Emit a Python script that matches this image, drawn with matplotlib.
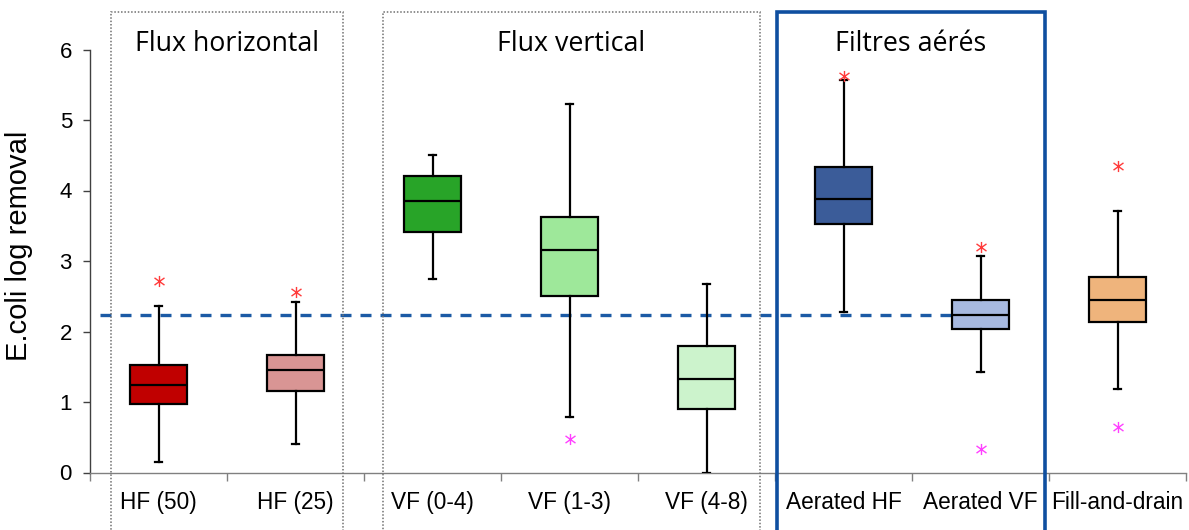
import matplotlib
matplotlib.use("Agg")
import matplotlib.pyplot as plt
import matplotlib.transforms as mtransforms
from matplotlib.patches import Rectangle
from matplotlib.path import Path

categories = ["HF (50)", "HF (25)", "VF (0-4)", "VF (1-3)", "VF (4-8)",
              "Aerated HF", "Aerated VF", "Fill-and-drain"]
whisker_low = [0.15, 0.40, 2.75, 0.79, 0.00, 2.28, 1.43, 1.18]
q1 = [0.97, 1.16, 3.41, 2.50, 0.90, 3.52, 2.03, 2.13]
median = [1.24, 1.45, 3.85, 3.15, 1.32, 3.88, 2.23, 2.45]
q3 = [1.53, 1.67, 4.21, 3.63, 1.79, 4.34, 2.45, 2.77]
whisker_high = [2.36, 2.42, 4.50, 5.23, 2.67, 5.57, 3.07, 3.71]
outliers_high = [[2.71], [2.56], [], [], [], [5.63], [3.20], [4.35]]
outliers_low = [[], [], [], [0.47], [], [], [0.33], [0.64]]
box_colors = ["#C00000", "#D99594", "#28A428", "#9EE89A", "#CCF3CC",
              "#3B5C99", "#A7B9E0", "#EFB47C"]
reference_level = 2.23
group_titles = ["Flux horizontal", "Flux vertical", "Filtres aérés"]

star = Path([(0, -1), (0, 1), (-0.9, -0.65), (0.9, 0.65), (-0.9, 0.65), (0.9, -0.65)],
            [Path.MOVETO, Path.LINETO, Path.MOVETO, Path.LINETO, Path.MOVETO, Path.LINETO])

fig = plt.figure(figsize=(11.89, 5.30), dpi=100)
ax = fig.add_axes([90/1189, (530-472.5)/530, 1096/1189, 423/530])

stats = []
for i in range(len(categories)):
    stats.append(dict(med=median[i], q1=q1[i], q3=q3[i],
                      whislo=whisker_low[i], whishi=whisker_high[i], fliers=[]))

bp = ax.bxp(stats, positions=range(len(categories)), widths=0.41,
            patch_artist=True, capwidths=0.05,
            boxprops=dict(edgecolor="black", linewidth=1.6),
            medianprops=dict(color="black", linewidth=1.6),
            whiskerprops=dict(color="black", linewidth=1.6),
            capprops=dict(color="black", linewidth=1.6), zorder=3)
for patch, c in zip(bp["boxes"], box_colors):
    patch.set_facecolor(c)

for i in range(len(categories)):
    if outliers_high[i]:
        ax.plot([i]*len(outliers_high[i]), outliers_high[i], linestyle="none",
                marker=star, markersize=8, color="#FF3B3B",
                markeredgewidth=1.0, zorder=4, clip_on=False)
    if outliers_low[i]:
        ax.plot([i]*len(outliers_low[i]), outliers_low[i], linestyle="none",
                marker=star, markersize=8, color="#FF40FF",
                markeredgewidth=1.0, zorder=4, clip_on=False)

ax.plot([-0.43, 5.9], [reference_level]*2, linestyle=(0, (3.3, 2.7)),
        color="#1B5AA5", linewidth=2.4, zorder=2)

ax.set_xlim(-0.5, 7.5)
ax.set_ylim(0, 6)
ax.set_yticks(range(0, 7))
ax.tick_params(axis="y", labelsize=16, length=5, width=1, color="#404040", pad=8)
ax.set_xticks(range(len(categories)))
ax.set_xticklabels(categories, fontsize=16.3, family="Liberation Sans")
ax.set_xticks([i - 0.5 for i in range(len(categories) + 1)], minor=True)
ax.tick_params(axis="x", which="major", length=0, pad=13)
ax.tick_params(axis="x", which="minor", length=6, width=1, color="#808080")
for lab in ax.get_yticklabels():
    lab.set_family("Liberation Sans")
for s in ["top", "right"]:
    ax.spines[s].set_visible(False)
ax.spines["left"].set_color("#404040")
ax.spines["bottom"].set_color("#808080")
ax.spines["left"].set_linewidth(1)
ax.spines["bottom"].set_linewidth(1)

ax.set_ylabel("E.coli log removal", fontsize=21, family="Liberation Sans")
ax.yaxis.set_label_coords(-0.052, 0.536)

trans = mtransforms.blended_transform_factory(ax.transData, ax.transAxes)
frames = [(-0.347, 1.347), (1.639, 4.39), (4.515, 6.47)]
frame_styles = [dict(edgecolor="#707070", linestyle=(0, (1, 1.2)), linewidth=1.1),
                dict(edgecolor="#707070", linestyle=(0, (1, 1.2)), linewidth=1.1),
                dict(edgecolor="#0F4FA0", linestyle="-", linewidth=2.6)]
for (x0, x1), st, title in zip(frames, frame_styles, group_titles):
    r = Rectangle((x0, -0.2), x1 - x0, 1.2887, transform=trans, fill=False,
                  clip_on=False, zorder=5, **st)
    ax.add_patch(r)
    ax.text((x0 + x1) / 2, 1.013, title, transform=trans, ha="center",
            va="center", fontsize=19.3, family="Open Sans")

fig.savefig("out.png", dpi=100)
